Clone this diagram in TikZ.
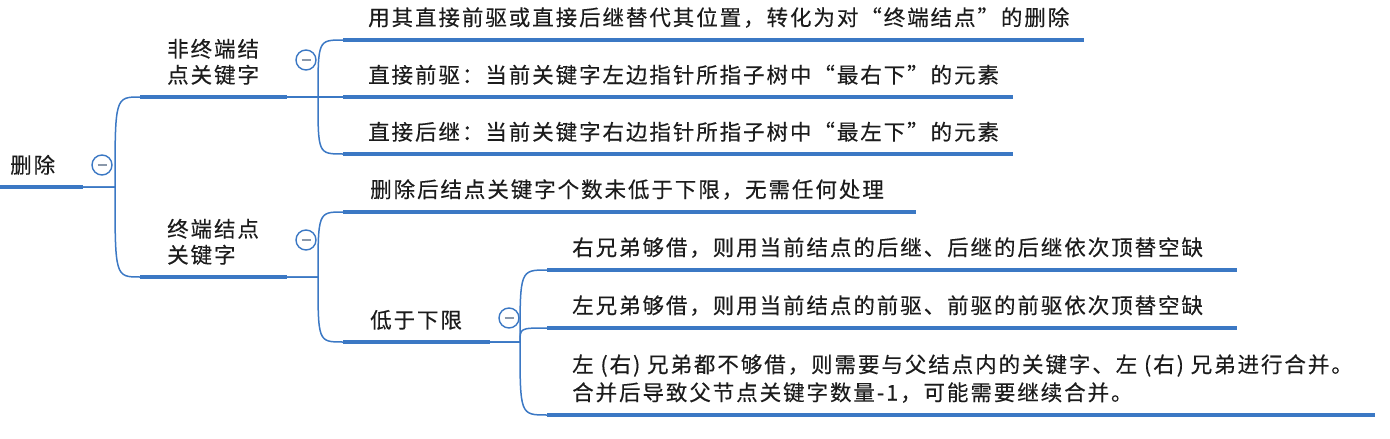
\documentclass[tikz,border=0pt]{standalone}
\usepackage{fontspec}
\usepackage{tikz}
\newfontfamily\mapfont[LetterSpace=9,FakeBold=0.3]{Noto Sans CJK SC}
\definecolor{MapBlue}{HTML}{3B78C4}
\definecolor{MapText}{HTML}{1C1C1C}
\definecolor{MapFold}{HTML}{8A98AA}

\begin{document}
\begin{tikzpicture}[x=1pt,y=-1pt,
    bar/.style={MapBlue,line width=4.5pt},
    link/.style={MapBlue,line width=1.5pt},
    topic/.style={anchor=south west,inner sep=0pt,align=left,text=MapText,
      font=\mapfont\fontsize{21.5pt}{26pt}\selectfont},
    fold/.style={circle,draw=MapBlue,line width=1.4pt,fill=white,minimum size=20pt,inner sep=0pt,
      path picture={\draw[MapFold,line width=1.6pt]
        ([xshift=-4.5pt]path picture bounding box.center) -- ([xshift=4.5pt]path picture bounding box.center);}}]
  \useasboundingbox (0,0) rectangle (1390,439);

  % underline ends of every topic
  \coordinate (root-in) at (0,187);   \coordinate (root-out) at (83,187);
  \coordinate (b1-in) at (140,97);    \coordinate (b1-out) at (287,97);
  \coordinate (b2-in) at (140,277);   \coordinate (b2-out) at (287,277);
  \coordinate (c11-in) at (343,40);   \coordinate (c11-out) at (1084,40);
  \coordinate (c12-in) at (343,97);   \coordinate (c12-out) at (1013,97);
  \coordinate (c13-in) at (343,154);  \coordinate (c13-out) at (1013,154);
  \coordinate (c21-in) at (343,212);  \coordinate (c21-out) at (916,212);
  \coordinate (c22-in) at (343,342);  \coordinate (c22-out) at (490,342);
  \coordinate (c31-in) at (547,270);  \coordinate (c31-out) at (1237,270);
  \coordinate (c32-in) at (547,328);  \coordinate (c32-out) at (1237,328);
  \coordinate (c33-in) at (547,415);  \coordinate (c33-out) at (1375,415);

  % forks
  \coordinate (root-fork) at (115,187);
  \coordinate (b1-fork) at (318,97);
  \coordinate (b2-fork) at (318,277);
  \coordinate (c22-fork) at (520,342);

  % connectors
  \foreach \p/\c in {root/b1,root/b2,b1/c11,b1/c12,b1/c13,b2/c21,b2/c22,c22/c31,c22/c32,c22/c33}
    \draw[link] (\p-out) -- (\p-fork) .. controls (\p-fork |- \c-in) .. (\c-in);

  \foreach \t in {root,b1,b2,c11,c12,c13,c21,c22,c31,c32,c33}
    \draw[bar] (\t-in) -- (\t-out);

  % topics
  \node[topic] (root) at (10,175) {删除};
  \node[topic] (b1) at (167,85) {非终端结\\点关键字};
  \node[topic] (b2) at (167,265) {终端结点\\关键字};
  \node[topic] (c11) at (368,28) {用其直接前驱或直接后继替代其位置，转化为对“终端结点”的删除};
  \node[topic] (c12) at (368,85) {直接前驱：当前关键字左边指针所指子树中“最右下”的元素};
  \node[topic] (c13) at (368,142) {直接后继：当前关键字右边指针所指子树中“最左下”的元素};
  \node[topic] (c21) at (370,200) {删除后结点关键字个数未低于下限，无需任何处理};
  \node[topic] (c22) at (370,330) {低于下限};
  \node[topic] (c31) at (572,258) {右兄弟够借，则用当前结点的后继、后继的后继依次顶替空缺};
  \node[topic] (c32) at (572,316) {左兄弟够借，则用当前结点的前驱、前驱的前驱依次顶替空缺};
  \node[topic,font=\mapfont\fontsize{21.5pt}{28pt}\selectfont] (c33) at (572,403)
    {左 (右) 兄弟都不够借，则需要与父结点内的关键字、左 (右) 兄弟进行合并。\\合并后导致父节点关键字数量-1，可能需要继续合并。};

  % fold buttons
  \node[fold] (root-fold) at (102,165) {};
  \node[fold] (b1-fold) at (306,60) {};
  \node[fold] (b2-fold) at (306,240) {};
  \node[fold] (c22-fold) at (509,318) {};
\end{tikzpicture}
\end{document}
